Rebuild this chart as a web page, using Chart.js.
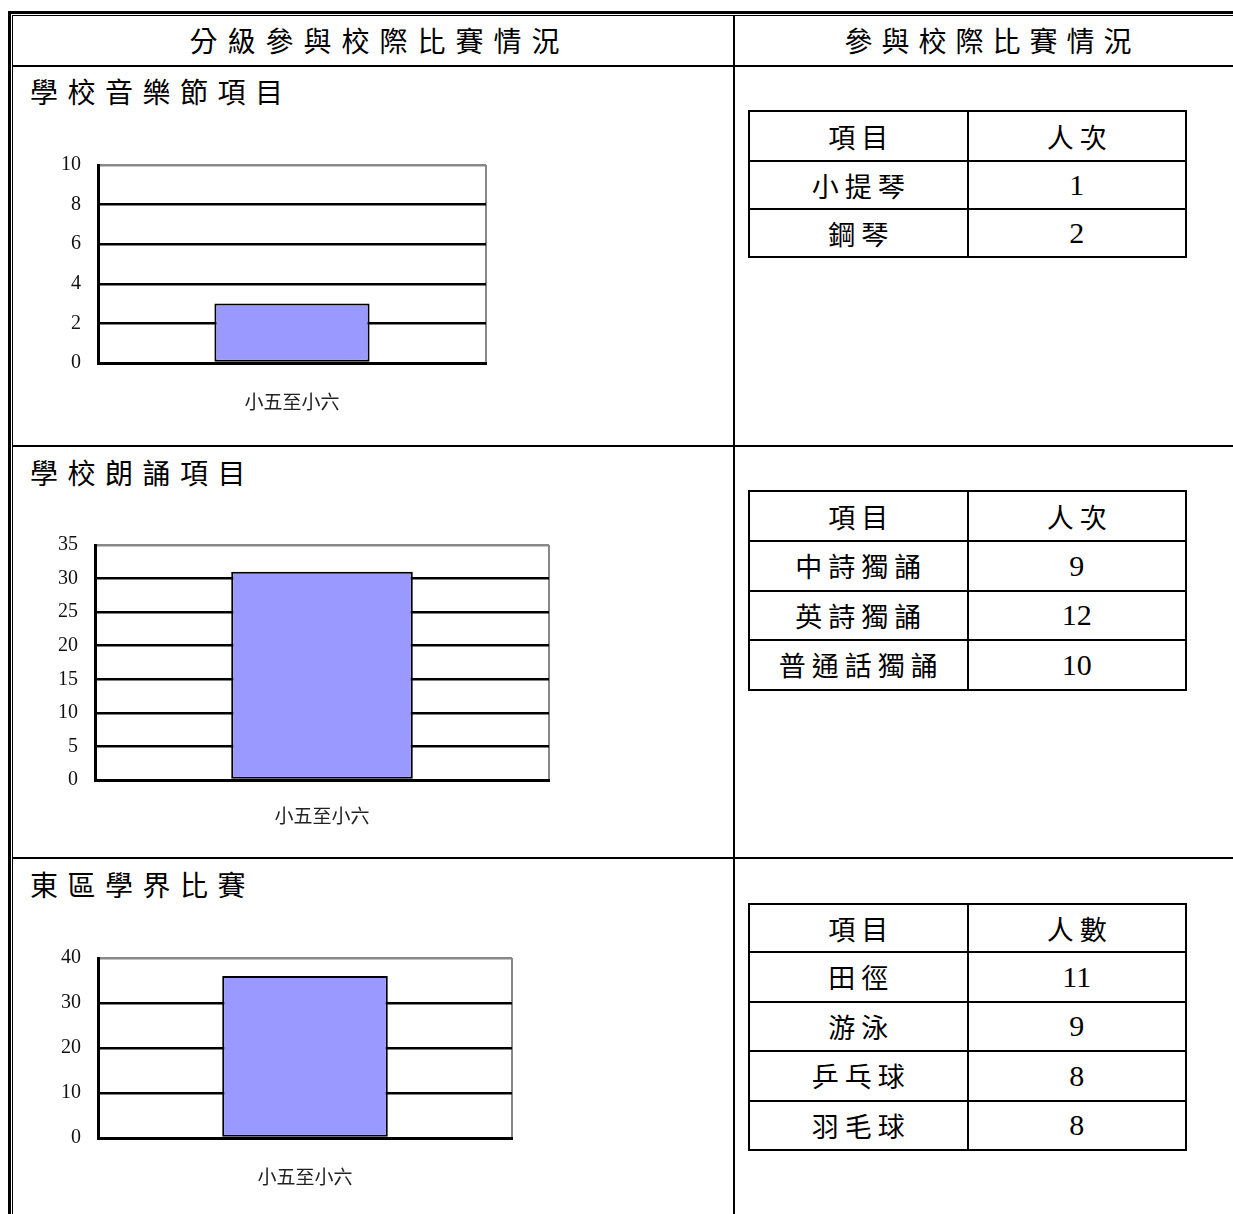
<!DOCTYPE html>
<html>
<head>
<meta charset="utf-8">
<script src="https://cdn.jsdelivr.net/npm/chart.js@4.4.0/dist/chart.umd.min.js"></script>
<style>
body { margin: 0; background: #fff; width: 1233px; height: 1214px; position: relative; overflow: hidden;
       font-family: "Noto Sans CJK TC", sans-serif; color: #000; }
.ln { position: absolute; background: #000; }
.txt { position: absolute; white-space: nowrap; font-size: 28px; line-height: 28px; }
.box { position: absolute; }
table.t { position: absolute; left: 748px; width: 439px; border-collapse: collapse; table-layout: fixed; }
table.t td { border: 2px solid #000; text-align: center; padding: 0 0 0 6px; font-size: 27px; letter-spacing: 6px; }
table.t td.n { font-family: "Liberation Serif", serif; font-size: 30px; letter-spacing: 0; padding: 0; }
</style>
</head>
<body>

<!-- outer frame -->
<div class="ln" style="left:8px;top:11px;width:1240px;height:3px"></div>
<div class="ln" style="left:12px;top:15px;width:1240px;height:1px"></div>
<div class="ln" style="left:8px;top:11px;width:3px;height:1220px"></div>
<div class="ln" style="left:12px;top:15px;width:1px;height:1220px"></div>
<div class="ln" style="left:12px;top:65px;width:1240px;height:2px"></div>
<div class="ln" style="left:12px;top:445px;width:1240px;height:2px"></div>
<div class="ln" style="left:12px;top:857px;width:1240px;height:2px"></div>
<div class="ln" style="left:733px;top:15px;width:2px;height:1220px"></div>

<div class="txt" style="left:16px;width:717px;top:26px;text-align:center;letter-spacing:10px;padding-left:10px;box-sizing:border-box">分級參與校際比賽情況</div>
<div class="txt" style="left:735px;width:506px;top:26px;text-align:center;letter-spacing:9px;padding-left:9px;box-sizing:border-box">參與校際比賽情況</div>

<div class="txt" style="left:30px;top:77px;letter-spacing:9.5px">學校音樂節項目</div>
<div class="txt" style="left:30px;top:458px;letter-spacing:9.5px">學校朗誦項目</div>
<div class="txt" style="left:30px;top:870px;letter-spacing:9.5px">東區學界比賽</div>

<div class="box" style="left:30px;top:150px;width:470px;height:270px"><canvas id="c1"></canvas></div>
<div class="box" style="left:30px;top:530px;width:540px;height:300px"><canvas id="c2"></canvas></div>
<div class="box" style="left:30px;top:940px;width:500px;height:260px"><canvas id="c3"></canvas></div>

<table class="t" id="t1" style="top:110px"></table>
<table class="t" id="t2" style="top:490px"></table>
<table class="t" id="t3" style="top:903px"></table>

<script>
// data
var categories = ["小五至小六"];
var musicTotal = [3];
var reciteTotal = [31];
var sportsTotal = [36];

var musicItems = ["小提琴", "鋼琴"];
var musicCounts = [1, 2];
var reciteItems = ["中詩獨誦", "英詩獨誦", "普通話獨誦"];
var reciteCounts = [9, 12, 10];
var sportsItems = ["田徑", "游泳", "乒乓球", "羽毛球"];
var sportsCounts = [11, 9, 8, 8];

var musicTicks = [0, 2, 4, 6, 8, 10];
var reciteTicks = [0, 5, 10, 15, 20, 25, 30, 35];
var sportsTicks = [0, 10, 20, 30, 40];

// small tables
function fillTable(id, head2, items, counts, rowH) {
    var t = document.getElementById(id);
    var html = '<tr style="height:' + rowH[0] + 'px"><td>項目</td><td>' + head2 + '</td></tr>';
    for (var i = 0; i < items.length; i++) {
        html += '<tr style="height:' + rowH[1] + 'px"><td>' + items[i] + '</td><td class="n">' + counts[i] + '</td></tr>';
    }
    t.innerHTML = html;
}
fillTable("t1", "人次", musicItems, musicCounts, [50, 48]);
fillTable("t2", "人次", reciteItems, reciteCounts, [50, 49.5]);
fillTable("t3", "人數", sportsItems, sportsCounts, [48, 49.5]);

// charts
function makeChart(id, values, ticks, g) {
    var max = ticks[ticks.length - 1];
    var step = ticks[1] - ticks[0];
    new Chart(document.getElementById(id).getContext("2d"), {
        type: "bar",
        data: {
            labels: categories,
            datasets: [{
                data: values,
                backgroundColor: "#9999FF",
                borderColor: "#000",
                borderWidth: 2,
                borderSkipped: false,
                barPercentage: 0.4,
                categoryPercentage: 1
            }]
        },
        options: {
            responsive: true,
            maintainAspectRatio: false,
            animation: false,
            layout: { padding: { left: 0, right: g.right, top: g.top, bottom: 0 } },
            plugins: { legend: { display: false }, tooltip: { enabled: false } },
            scales: {
                x: {
                    grid: {
                        drawTicks: false,
                        tickLength: 0,
                        lineWidth: 2,
                        color: function (c) { return c.index === 0 ? "rgba(0,0,0,0)" : "#888"; }
                    },
                    border: { color: "#000", width: 3 },
                    ticks: { padding: g.xPad, color: "#222", font: { family: "Noto Sans CJK TC", size: 19 } },
                    afterFit: function (s) { s.height = g.xH; }
                },
                y: {
                    min: 0,
                    max: max,
                    grid: {
                        drawTicks: false,
                        tickLength: 0,
                        lineWidth: 2.5,
                        color: function (c) { return c.tick && c.tick.value === max ? "#888" : "#000"; }
                    },
                    border: { color: "#000", width: 3 },
                    ticks: { stepSize: step, padding: 17, color: "#111", font: { family: "Liberation Serif", size: 20 } },
                    afterFit: function (s) { s.width = g.yW; s.paddingTop = 0; s.paddingBottom = 0; }
                }
            }
        }
    });
}

makeChart("c1", musicTotal, musicTicks, { right: 14, top: 15, xH: 57, xPad: 27, yW: 68 });
makeChart("c2", reciteTotal, reciteTicks, { right: 21, top: 15, xH: 50, xPad: 24, yW: 65 });
makeChart("c3", sportsTotal, sportsTicks, { right: 18, top: 18, xH: 62, xPad: 27, yW: 68 });
</script>
</body>
</html>
